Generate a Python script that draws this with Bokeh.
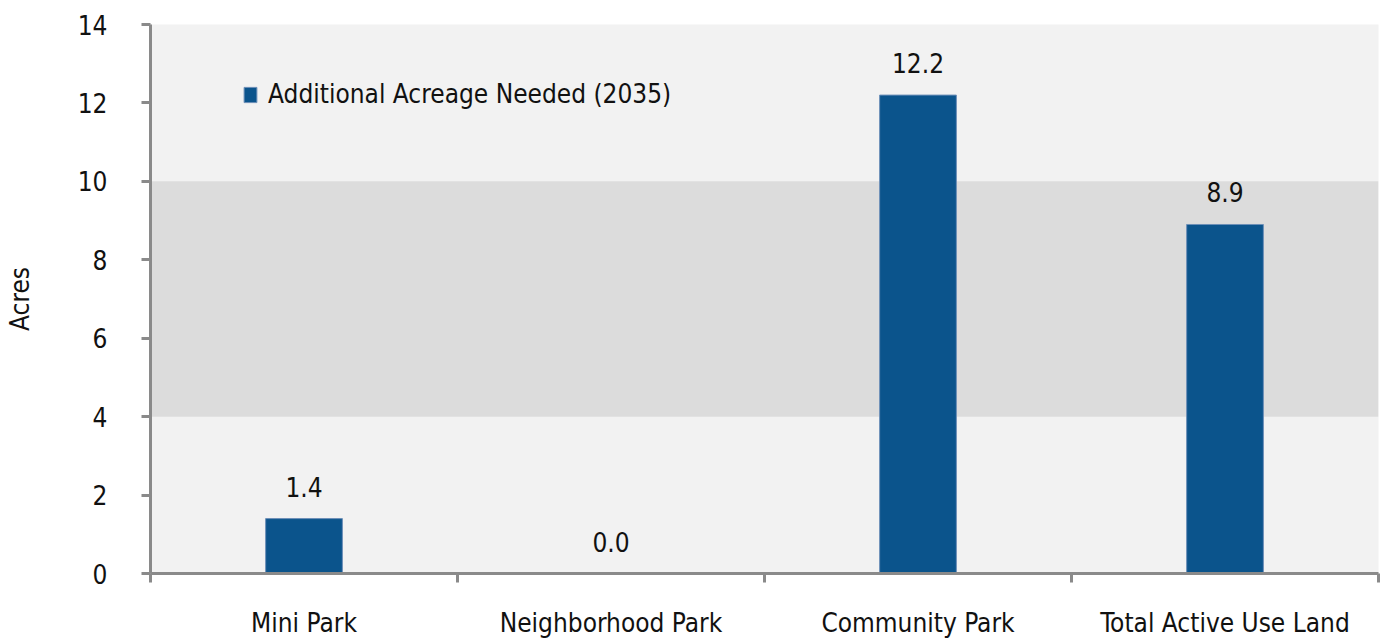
from bokeh.plotting import figure
from bokeh.models import ColumnDataSource, Range1d, FixedTicker, BoxAnnotation, Legend, LegendItem
from bokeh.core.properties import value
from bokeh.embed import file_html
from bokeh.resources import INLINE

categories = ["Mini Park", "Neighborhood Park", "Community Park", "Total Active Use Land"]
acres = [1.4, 0.0, 12.2, 8.9]
labels = ["1.4", "0.0", "12.2", "8.9"]
series_name = "Additional Acreage Needed (2035)"
y_ticks = [0, 2, 4, 6, 8, 10, 12, 14]

FONT = "'DejaVu Sans Condensed', 'Roboto', sans-serif"
FS = "26px"
BAR = "#0b548c"

xs = [i + 0.5 for i in range(len(categories))]
src = ColumnDataSource(dict(x=xs, top=acres, lab=labels))

p = figure(width=1384, height=640, output_backend="svg", toolbar_location=None,
           x_range=Range1d(0, len(categories)), y_range=Range1d(0, 14))
p.min_border_left = 150
p.min_border_right = 6
p.min_border_top = 24
p.min_border_bottom = 62
p.outline_line_color = None
p.background_fill_color = "#f2f2f2"
p.border_fill_color = "white"
p.grid.visible = False

p.add_layout(BoxAnnotation(bottom=4, top=10, fill_color="#dcdcdc", fill_alpha=1, line_color=None, level="underlay"))

r = p.vbar(x="x", top="top", width=0.25, source=src, fill_color=BAR, line_color="#6d8fb8", line_width=1)
p.text(x="x", y="top", text="lab", source=src, text_align="center", text_baseline="alphabetic",
       y_offset=-32, text_font=value(FONT), text_font_size=FS, text_color="#111111")

# axes
xa = p.xaxis[0]
xa.ticker = FixedTicker(ticks=xs, minor_ticks=list(range(len(categories) + 1)))
xa.major_label_overrides = {x: c for x, c in zip(xs, categories)}
xa.major_tick_out = 0
xa.major_tick_in = 0
xa.minor_tick_out = 9
xa.minor_tick_in = 0
xa.minor_tick_line_color = "#8a8a8a"
xa.minor_tick_line_width = 3
xa.axis_line_color = "#8a8a8a"
xa.axis_line_width = 3
xa.major_label_standoff = 25
xa.major_label_text_font = FONT
xa.major_label_text_font_size = FS
xa.major_label_text_color = "#111111"

ya = p.yaxis[0]
ya.ticker = FixedTicker(ticks=y_ticks, minor_ticks=[])
ya.major_tick_out = 9
ya.major_tick_in = 0
ya.major_tick_line_color = "#8a8a8a"
ya.major_tick_line_width = 3
ya.axis_line_color = "#8a8a8a"
ya.axis_line_width = 3
ya.major_label_standoff = 34
ya.major_label_text_font = FONT
ya.major_label_text_font_size = FS
ya.major_label_text_color = "#111111"
ya.axis_label = "Acres"
ya.axis_label_text_font = FONT
ya.axis_label_text_font_style = "normal"
ya.axis_label_text_font_size = FS
ya.axis_label_text_color = "#111111"
ya.axis_label_standoff = 40

legend = Legend(items=[LegendItem(label=series_name, renderers=[r])], location=(92, 464),
                background_fill_alpha=0, border_line_color=None,
                label_text_font=FONT, label_text_font_size=FS, label_text_color="#111111",
                glyph_width=16, glyph_height=19, label_standoff=10, padding=0, margin=0)
p.add_layout(legend)

open("out.html", "w").write(file_html(p, INLINE))
